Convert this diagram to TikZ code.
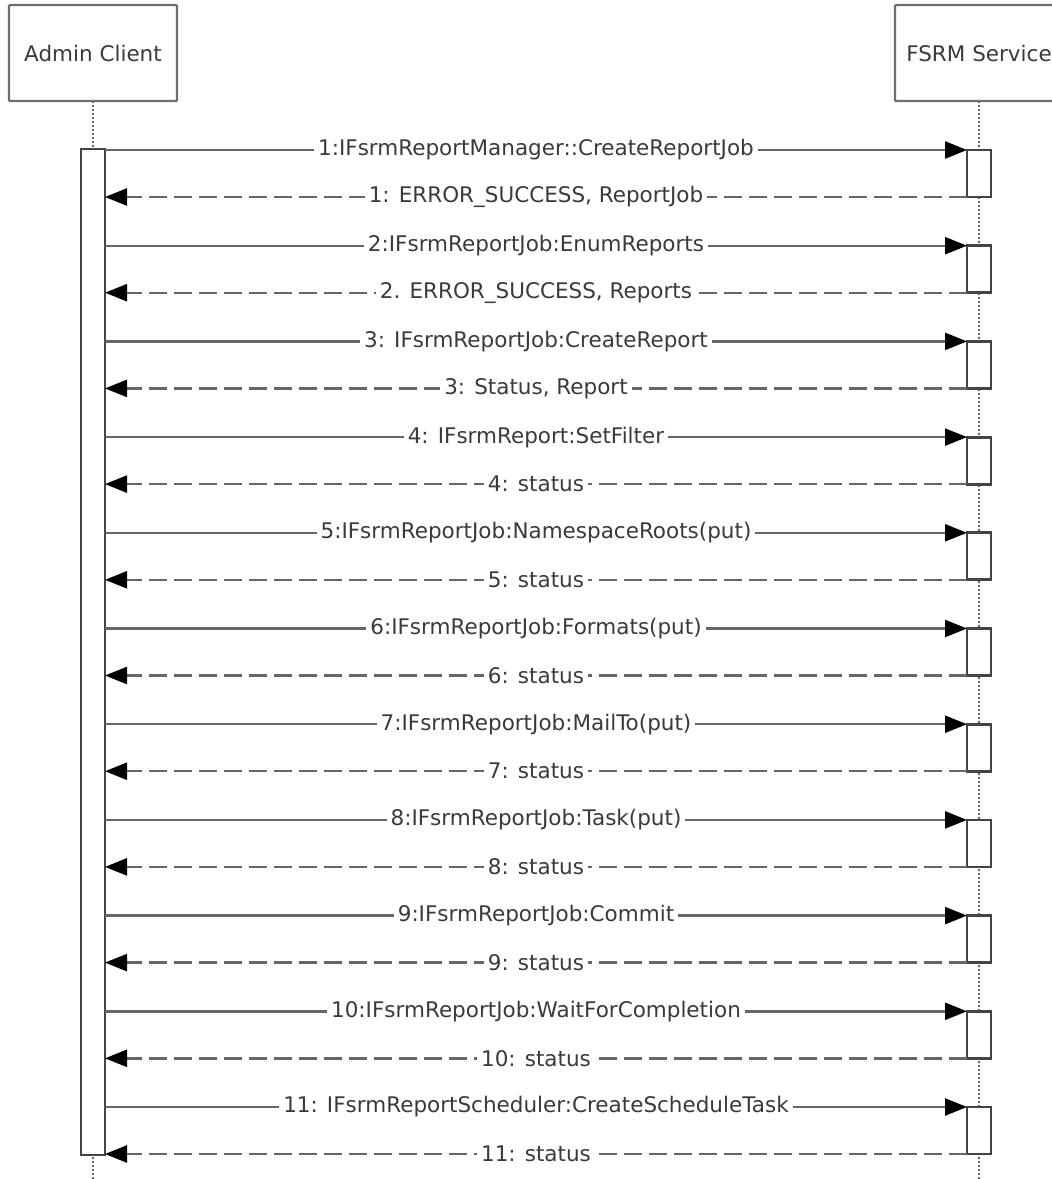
\documentclass[tikz,border=0pt]{standalone}
\usepackage{fontspec}
\setmainfont{DejaVu Sans}
\usepackage{xcolor}
\usetikzlibrary{arrows.meta,positioning}
\definecolor{linegray}{HTML}{666666}
\definecolor{boxgray}{HTML}{6E6E6E}
\definecolor{bargray}{HTML}{444444}
\definecolor{textgray}{HTML}{3A3A3A}

\begin{document}
\begin{tikzpicture}[x=1pt, y=-1pt,
  actor/.style={draw=boxgray, line width=2.2pt, rounded corners=1pt, outer sep=0pt, text=textgray, minimum width=168pt, minimum height=96pt, font=\fontsize{21.5}{25}\selectfont},
  actbar/.style={draw=bargray, line width=2.8pt, fill=white, outer sep=0pt, minimum width=24pt, inner sep=0pt},
  fsrmbar/.style={actbar, minimum height=47pt},
  lifeline/.style={draw=linegray, line width=2.4pt, dash pattern=on 2pt off 2pt},
  call/.style={draw=linegray, line width=2.4pt, -{Triangle[length=22pt, width=17pt, color=black]}},
  reply/.style={call, dash pattern=on 18pt off 7pt},
  msg/.style={fill=white, text=textgray, inner sep=4pt, font=\fontsize{21.5}{25}\selectfont}
]
\useasboundingbox (0,0) rectangle (1052,1179);

\node[actor] (admin) at (93,53) {Admin Client};
\node[actor, right=718pt of admin] (fsrm) {FSRM Service};
\coordinate (end) at (0,1179);

% lifelines, bars on top
\draw[lifeline] (admin.south) -- (admin.south |- end);
\draw[lifeline] (fsrm.south) -- (fsrm.south |- end);

\node[actbar, minimum height=1006pt, below=48pt of admin] (adminbar) {};
\node[fsrmbar, below=49pt of fsrm] (b1) {};
\node[fsrmbar, below=48.7pt of b1] (b2) {};
\node[fsrmbar, below=48.7pt of b2] (b3) {};
\node[fsrmbar, below=48.7pt of b3] (b4) {};
\node[fsrmbar, below=48.7pt of b4] (b5) {};
\node[fsrmbar, below=48.7pt of b5] (b6) {};
\node[fsrmbar, below=48.7pt of b6] (b7) {};
\node[fsrmbar, below=48.7pt of b7] (b8) {};
\node[fsrmbar, below=48.7pt of b8] (b9) {};
\node[fsrmbar, below=48.7pt of b9] (b10) {};
\node[fsrmbar, below=48.7pt of b10] (b11) {};

% calls and replies
\draw[call] (adminbar.east |- b1.north) -- (b1.north west) node[msg, midway] {1:IFsrmReportManager::CreateReportJob};
\draw[reply] (b1.south west) -- (adminbar.east |- b1.south) node[msg, midway] {1: ERROR\_SUCCESS, ReportJob};
\draw[call] (adminbar.east |- b2.north) -- (b2.north west) node[msg, midway] {2:IFsrmReportJob:EnumReports};
\draw[reply] (b2.south west) -- (adminbar.east |- b2.south) node[msg, midway] {2. ERROR\_SUCCESS, Reports};
\draw[call] (adminbar.east |- b3.north) -- (b3.north west) node[msg, midway] {3: IFsrmReportJob:CreateReport};
\draw[reply] (b3.south west) -- (adminbar.east |- b3.south) node[msg, midway] {3: Status, Report};
\draw[call] (adminbar.east |- b4.north) -- (b4.north west) node[msg, midway] {4: IFsrmReport:SetFilter};
\draw[reply] (b4.south west) -- (adminbar.east |- b4.south) node[msg, midway] {4: status};
\draw[call] (adminbar.east |- b5.north) -- (b5.north west) node[msg, midway] {5:IFsrmReportJob:NamespaceRoots(put)};
\draw[reply] (b5.south west) -- (adminbar.east |- b5.south) node[msg, midway] {5: status};
\draw[call] (adminbar.east |- b6.north) -- (b6.north west) node[msg, midway] {6:IFsrmReportJob:Formats(put)};
\draw[reply] (b6.south west) -- (adminbar.east |- b6.south) node[msg, midway] {6: status};
\draw[call] (adminbar.east |- b7.north) -- (b7.north west) node[msg, midway] {7:IFsrmReportJob:MailTo(put)};
\draw[reply] (b7.south west) -- (adminbar.east |- b7.south) node[msg, midway] {7: status};
\draw[call] (adminbar.east |- b8.north) -- (b8.north west) node[msg, midway] {8:IFsrmReportJob:Task(put)};
\draw[reply] (b8.south west) -- (adminbar.east |- b8.south) node[msg, midway] {8: status};
\draw[call] (adminbar.east |- b9.north) -- (b9.north west) node[msg, midway] {9:IFsrmReportJob:Commit};
\draw[reply] (b9.south west) -- (adminbar.east |- b9.south) node[msg, midway] {9: status};
\draw[call] (adminbar.east |- b10.north) -- (b10.north west) node[msg, midway] {10:IFsrmReportJob:WaitForCompletion};
\draw[reply] (b10.south west) -- (adminbar.east |- b10.south) node[msg, midway] {10: status};
\draw[call] (adminbar.east |- b11.north) -- (b11.north west) node[msg, midway] {11: IFsrmReportScheduler:CreateScheduleTask};
\draw[reply] (b11.south west) -- (adminbar.east |- b11.south) node[msg, midway] {11: status};
\end{tikzpicture}
\end{document}
